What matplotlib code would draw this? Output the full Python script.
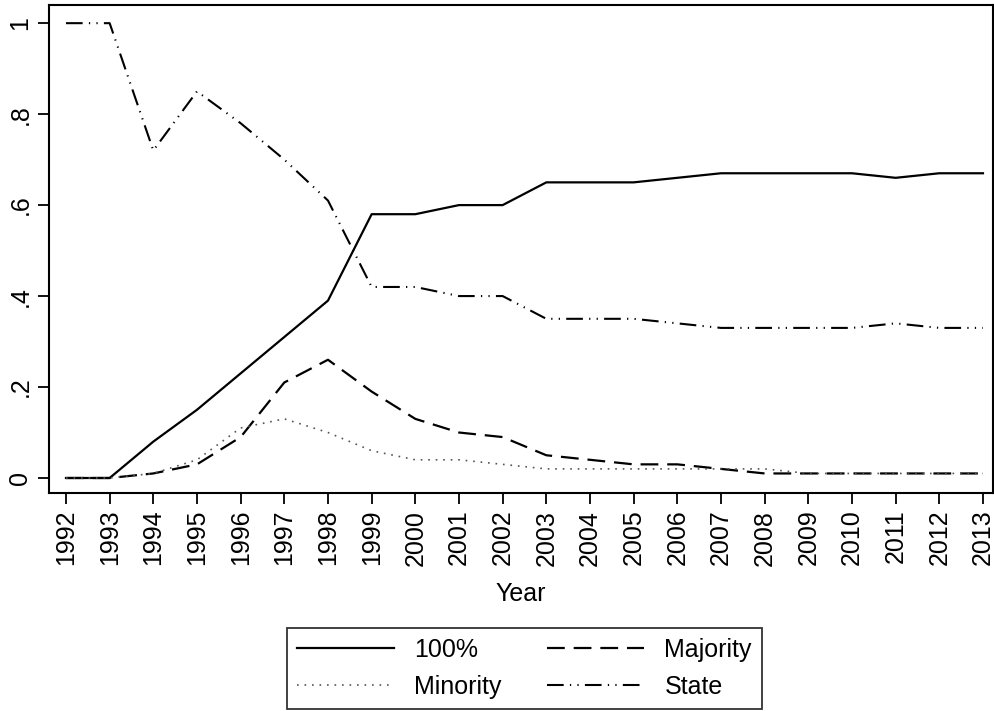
import matplotlib
matplotlib.use("Agg")
from matplotlib import pyplot as plt

plt.rcParams['font.family'] = ['Liberation Sans', 'DejaVu Sans']

years = list(range(1992, 2014))
full = [0, 0, 0.08, 0.15, 0.23, 0.31, 0.39, 0.58, 0.58, 0.60, 0.60,
        0.65, 0.65, 0.65, 0.66, 0.67, 0.67, 0.67, 0.67, 0.66, 0.67, 0.67]
majority = [0, 0, 0.01, 0.03, 0.09, 0.21, 0.26, 0.19, 0.13, 0.10, 0.09,
            0.05, 0.04, 0.03, 0.03, 0.02, 0.01, 0.01, 0.01, 0.01, 0.01, 0.01]
minority = [0, 0, 0.01, 0.04, 0.11, 0.13, 0.10, 0.06, 0.04, 0.04, 0.03,
            0.02, 0.02, 0.02, 0.02, 0.02, 0.02, 0.01, 0.01, 0.01, 0.01, 0.01]
state = [1, 1, 0.72, 0.85, 0.78, 0.70, 0.61, 0.42, 0.42, 0.40, 0.40,
         0.35, 0.35, 0.35, 0.34, 0.33, 0.33, 0.33, 0.33, 0.34, 0.33, 0.33]
yticks = [0, 0.2, 0.4, 0.6, 0.8, 1]
ylabels = ["0", ".2", ".4", ".6", ".8", "1"]

fig = plt.figure(figsize=(9.95, 7.11), dpi=100)
ax = fig.add_axes([0.0492, 0.3066, 0.9488, 0.6864])

ax.plot(years, full, color="black", lw=1.6, label="100%")
ax.plot(years, majority, color="black", lw=1.6, dashes=(8, 4), label="Majority")
ax.plot(years, minority, color="#555555", lw=1.2, dashes=(1, 3.5), label="Minority")
ax.plot(years, state, color="black", lw=1.5, dashes=(8, 3, 0.6, 3, 0.6, 3), label="State")

ax.set_xlim(1991.61, 2013.23)
ax.set_ylim(-0.033, 1.04)
ax.set_xticks(years)
ax.set_xticklabels([str(y) for y in years], rotation=90, fontsize=18)
ax.set_yticks(yticks)
ax.set_yticklabels(ylabels, rotation=90, fontsize=18, va="center")
ax.tick_params(direction="out", length=8, width=1.3, color="black", pad=4)
for s in ax.spines.values():
    s.set_linewidth(1.5)
    s.set_color("black")
ax.set_xlabel("Year", fontsize=18, labelpad=12)

h, l = ax.get_legend_handles_labels()
h = [h[0], h[2], h[1], h[3]]
l = [l[0], l[2], l[1], l[3]]
leg = fig.legend(h, l, ncol=2, loc="center", bbox_to_anchor=(0.527, 0.06),
                 fontsize=18, handlelength=3.9, frameon=True, fancybox=False,
                 edgecolor="black", columnspacing=1.8, handletextpad=0.8,
                 borderpad=0.4, labelspacing=0.5, borderaxespad=0)
leg.get_frame().set_linewidth(1.3)

fig.savefig("out.png", dpi=100, facecolor="white")
